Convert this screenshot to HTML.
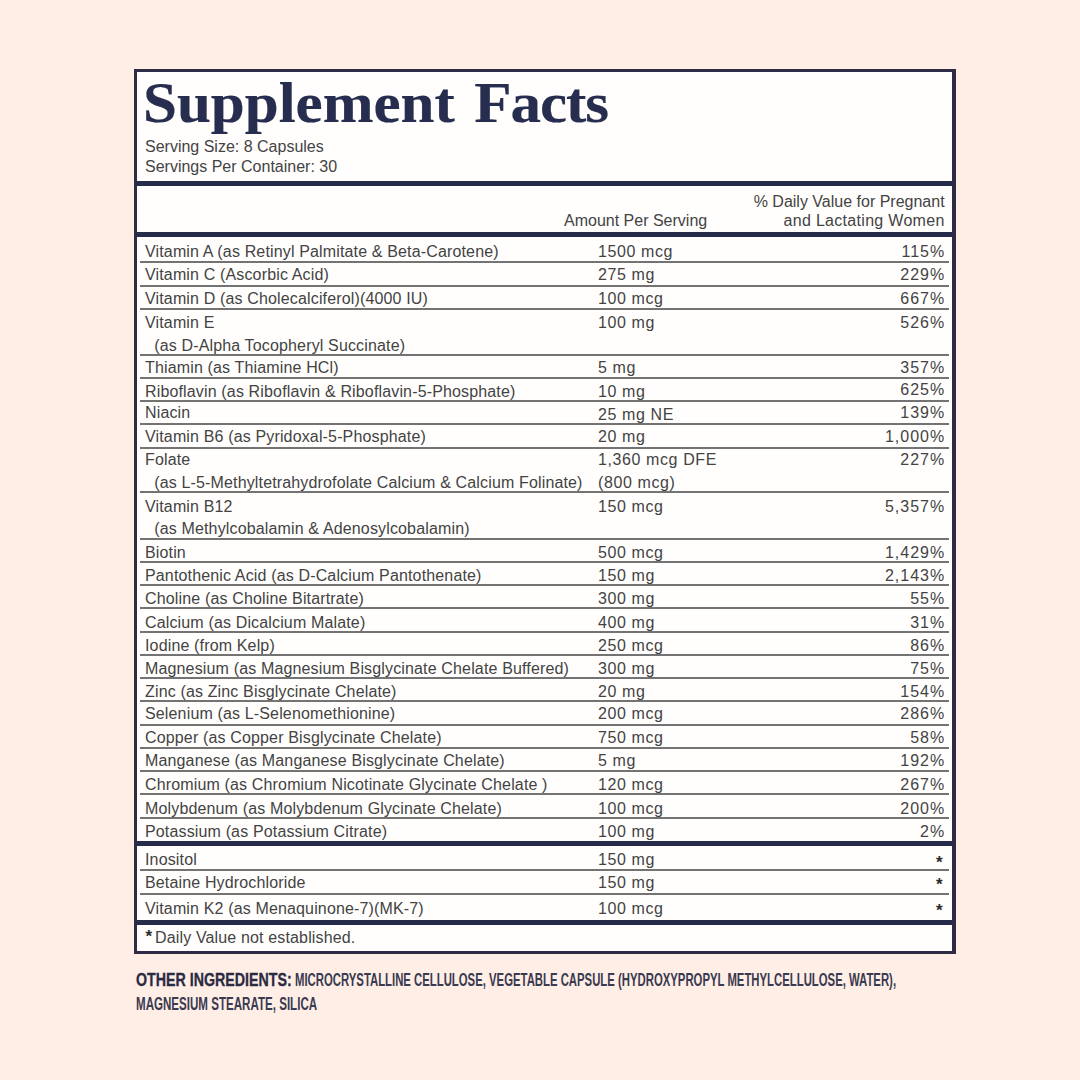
<!DOCTYPE html>
<html><head><meta charset="utf-8"><style>
html,body{margin:0;padding:0;}
body{width:1080px;height:1080px;background:#ffeee6;position:relative;overflow:hidden;font-family:"Liberation Sans",sans-serif;}
.box{position:absolute;left:134px;top:69px;width:822px;height:885px;box-sizing:border-box;border:3px solid #2d2c44;border-right-width:4px;background:#fffefd;}
.t{position:absolute;font-size:16px;line-height:20px;color:#434343;white-space:nowrap;letter-spacing:.15px;}
.am{letter-spacing:.6px;}
.h{letter-spacing:0;}
.h2{letter-spacing:.3px;}
.pc{letter-spacing:1px;}
.ast{position:absolute;font-size:17px;font-weight:bold;line-height:20px;color:#2a2a2a;}
.ln{position:absolute;left:140px;width:809px;height:2px;background:#737373;}
.thick{position:absolute;left:137px;width:815px;height:5px;background:#262b4a;}
.title{position:absolute;left:143px;top:73.4px;font-family:"Liberation Serif",serif;font-weight:bold;font-size:57px;line-height:60px;color:#262d4f;white-space:nowrap;transform-origin:0 0;transform:scaleX(1.07);-webkit-text-stroke:0.2px #262d4f;}
.oi{position:absolute;font-size:18px;font-weight:bold;line-height:20px;color:#3a3a50;white-space:nowrap;transform-origin:0 0;}
.lb{color:#2a2a42;-webkit-text-stroke:0.3px #2a2a42;}
</style></head><body>
<div class="box"></div>
<div class="title">Supplement <span style="margin-left:4px;letter-spacing:-1px">Facts</span></div>
<div class="t h" style="left:145px;top:137.2px">Serving Size: 8 Capsules</div>
<div class="t h" style="left:145px;top:156.5px">Servings Per Container: 30</div>
<div class="thick" style="top:181px"></div>
<div class="t h" style="right:135.39999999999998px;top:191.5px;text-align:right">% Daily Value for Pregnant</div>
<div class="t h2" style="right:135.39999999999998px;top:211.0px;text-align:right">and Lactating Women</div>
<div class="t h" style="left:564px;top:211.0px">Amount Per Serving</div>
<div class="thick" style="top:232px"></div>
<div class="t" style="left:145px;top:242.0px">Vitamin A (as Retinyl Palmitate &amp; Beta-Carotene)</div>
<div class="t am" style="left:598px;top:242.0px">1500 mcg</div>
<div class="t pc" style="right:134.79999999999995px;top:242.0px;text-align:right">115%</div>
<div class="ln" style="top:261.1px"></div>
<div class="t" style="left:145px;top:265.3px">Vitamin C (Ascorbic Acid)</div>
<div class="t am" style="left:598px;top:265.3px">275 mg</div>
<div class="t pc" style="right:134.79999999999995px;top:265.3px;text-align:right">229%</div>
<div class="ln" style="top:284.5px"></div>
<div class="t" style="left:145px;top:288.5px">Vitamin D (as Cholecalciferol)(4000 IU)</div>
<div class="t am" style="left:598px;top:288.5px">100 mcg</div>
<div class="t pc" style="right:134.79999999999995px;top:288.5px;text-align:right">667%</div>
<div class="ln" style="top:307.7px"></div>
<div class="t" style="left:145px;top:313.1px">Vitamin E</div>
<div class="t" style="left:145px;top:335.6px">&nbsp;&nbsp;(as D-Alpha Tocopheryl Succinate)</div>
<div class="t am" style="left:598px;top:313.1px">100 mg</div>
<div class="t pc" style="right:134.79999999999995px;top:313.1px;text-align:right">526%</div>
<div class="ln" style="top:354.0px"></div>
<div class="t" style="left:145px;top:357.7px">Thiamin (as Thiamine HCl)</div>
<div class="t am" style="left:598px;top:357.7px">5 mg</div>
<div class="t pc" style="right:134.79999999999995px;top:357.7px;text-align:right">357%</div>
<div class="ln" style="top:377.1px"></div>
<div class="t" style="left:145px;top:382.0px">Riboflavin (as Riboflavin &amp; Riboflavin-5-Phosphate)</div>
<div class="t am" style="left:598px;top:382.0px">10 mg</div>
<div class="t pc" style="right:134.79999999999995px;top:379.6px;text-align:right">625%</div>
<div class="ln" style="top:400.4px"></div>
<div class="t" style="left:145px;top:403.2px">Niacin</div>
<div class="t am" style="left:598px;top:405.0px">25 mg NE</div>
<div class="t pc" style="right:134.79999999999995px;top:403.2px;text-align:right">139%</div>
<div class="ln" style="top:423.4px"></div>
<div class="t" style="left:145px;top:427.0px">Vitamin B6 (as Pyridoxal-5-Phosphate)</div>
<div class="t am" style="left:598px;top:427.0px">20 mg</div>
<div class="t pc" style="right:134.79999999999995px;top:427.0px;text-align:right">1,000%</div>
<div class="ln" style="top:446.9px"></div>
<div class="t" style="left:145px;top:450.3px">Folate</div>
<div class="t" style="left:145px;top:472.8px">&nbsp;&nbsp;(as L-5-Methyltetrahydrofolate Calcium &amp; Calcium Folinate)</div>
<div class="t am" style="left:598px;top:450.3px">1,360 mcg DFE</div>
<div class="t am" style="left:598px;top:472.8px">(800 mcg)</div>
<div class="t pc" style="right:134.79999999999995px;top:450.3px;text-align:right">227%</div>
<div class="ln" style="top:491.2px"></div>
<div class="t" style="left:145px;top:496.7px">Vitamin B12</div>
<div class="t" style="left:145px;top:519.2px">&nbsp;&nbsp;(as Methylcobalamin &amp; Adenosylcobalamin)</div>
<div class="t am" style="left:598px;top:496.7px">150 mcg</div>
<div class="t pc" style="right:134.79999999999995px;top:496.7px;text-align:right">5,357%</div>
<div class="ln" style="top:537.8px"></div>
<div class="t" style="left:145px;top:542.8px">Biotin</div>
<div class="t am" style="left:598px;top:542.8px">500 mcg</div>
<div class="t pc" style="right:134.79999999999995px;top:542.8px;text-align:right">1,429%</div>
<div class="ln" style="top:561.0px"></div>
<div class="t" style="left:145px;top:566.3px">Pantothenic Acid (as D-Calcium Pantothenate)</div>
<div class="t am" style="left:598px;top:566.3px">150 mg</div>
<div class="t pc" style="right:134.79999999999995px;top:566.3px;text-align:right">2,143%</div>
<div class="ln" style="top:584.1px"></div>
<div class="t" style="left:145px;top:588.9px">Choline (as Choline Bitartrate)</div>
<div class="t am" style="left:598px;top:588.9px">300 mg</div>
<div class="t pc" style="right:134.79999999999995px;top:588.9px;text-align:right">55%</div>
<div class="ln" style="top:607.4px"></div>
<div class="t" style="left:145px;top:612.8px">Calcium (as Dicalcium Malate)</div>
<div class="t am" style="left:598px;top:612.8px">400 mg</div>
<div class="t pc" style="right:134.79999999999995px;top:612.8px;text-align:right">31%</div>
<div class="ln" style="top:630.5px"></div>
<div class="t" style="left:145px;top:636.0px">Iodine (from Kelp)</div>
<div class="t am" style="left:598px;top:636.0px">250 mcg</div>
<div class="t pc" style="right:134.79999999999995px;top:636.0px;text-align:right">86%</div>
<div class="ln" style="top:653.8px"></div>
<div class="t" style="left:145px;top:659.2px">Magnesium (as Magnesium Bisglycinate Chelate Buffered)</div>
<div class="t am" style="left:598px;top:659.2px">300 mg</div>
<div class="t pc" style="right:134.79999999999995px;top:659.2px;text-align:right">75%</div>
<div class="ln" style="top:677.0px"></div>
<div class="t" style="left:145px;top:682.2px">Zinc (as Zinc Bisglycinate Chelate)</div>
<div class="t am" style="left:598px;top:682.2px">20 mg</div>
<div class="t pc" style="right:134.79999999999995px;top:682.2px;text-align:right">154%</div>
<div class="ln" style="top:700.3px"></div>
<div class="t" style="left:145px;top:704.2px">Selenium (as L-Selenomethionine)</div>
<div class="t am" style="left:598px;top:704.2px">200 mcg</div>
<div class="t pc" style="right:134.79999999999995px;top:704.2px;text-align:right">286%</div>
<div class="ln" style="top:723.8px"></div>
<div class="t" style="left:145px;top:728.2px">Copper (as Copper Bisglycinate Chelate)</div>
<div class="t am" style="left:598px;top:728.2px">750 mcg</div>
<div class="t pc" style="right:134.79999999999995px;top:728.2px;text-align:right">58%</div>
<div class="ln" style="top:747.0px"></div>
<div class="t" style="left:145px;top:751.1px">Manganese (as Manganese Bisglycinate Chelate)</div>
<div class="t am" style="left:598px;top:751.1px">5 mg</div>
<div class="t pc" style="right:134.79999999999995px;top:751.1px;text-align:right">192%</div>
<div class="ln" style="top:770.0px"></div>
<div class="t" style="left:145px;top:774.9px">Chromium (as Chromium Nicotinate Glycinate Chelate )</div>
<div class="t am" style="left:598px;top:774.9px">120 mcg</div>
<div class="t pc" style="right:134.79999999999995px;top:774.9px;text-align:right">267%</div>
<div class="ln" style="top:793.4px"></div>
<div class="t" style="left:145px;top:798.9px">Molybdenum (as Molybdenum Glycinate Chelate)</div>
<div class="t am" style="left:598px;top:798.9px">100 mcg</div>
<div class="t pc" style="right:134.79999999999995px;top:798.9px;text-align:right">200%</div>
<div class="ln" style="top:816.7px"></div>
<div class="t" style="left:145px;top:821.8px">Potassium (as Potassium Citrate)</div>
<div class="t am" style="left:598px;top:821.8px">100 mg</div>
<div class="t pc" style="right:134.79999999999995px;top:821.8px;text-align:right">2%</div>
<div class="t" style="left:145px;top:850.2px">Inositol</div>
<div class="t am" style="left:598px;top:850.2px">150 mg</div>
<div class="ast" style="left:936px;top:852.7px">*</div>
<div class="ln" style="top:868.8px"></div>
<div class="t" style="left:145px;top:872.9px">Betaine Hydrochloride</div>
<div class="t am" style="left:598px;top:872.9px">150 mg</div>
<div class="ast" style="left:936px;top:875.4px">*</div>
<div class="ln" style="top:893.4px"></div>
<div class="t" style="left:145px;top:898.5px">Vitamin K2 (as Menaquinone-7)(MK-7)</div>
<div class="t am" style="left:598px;top:898.5px">100 mcg</div>
<div class="ast" style="left:936px;top:901.0px">*</div>
<div class="thick" style="top:841px"></div>
<div class="thick" style="top:920.3px"></div>
<div class="ast" style="left:145.5px;top:927px">*</div>
<div class="t" style="left:155px;top:928.2px">Daily Value not established.</div>
<div class="oi lb" style="left:136px;top:969.6px;transform:scaleX(0.79)">OTHER INGREDIENTS:</div>
<div class="oi" style="left:294.6px;top:969.6px;transform:scaleX(0.630)">MICROCRYSTALLINE CELLULOSE, VEGETABLE CAPSULE (HYDROXYPROPYL METHYLCELLULOSE, WATER),</div>
<div class="oi" style="left:136.3px;top:994px;transform:scaleX(0.643)">MAGNESIUM STEARATE, SILICA</div>
</body></html>
